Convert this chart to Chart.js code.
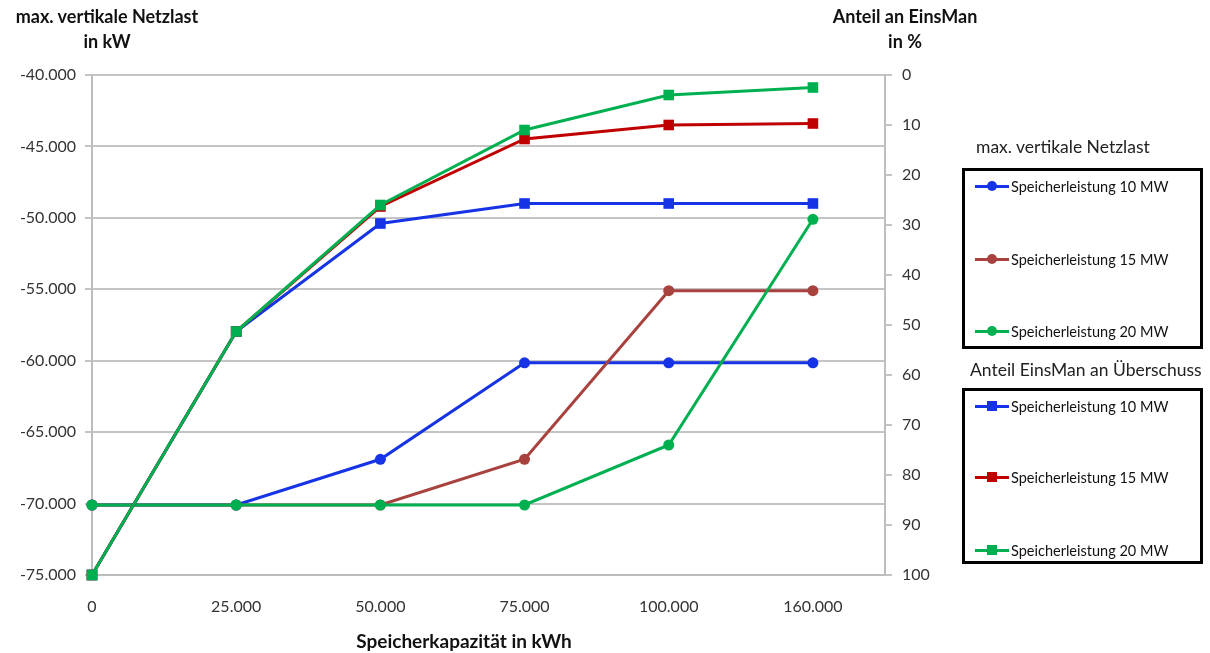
<!DOCTYPE html>
<html>
<head>
<meta charset="utf-8">
<script src="https://cdn.jsdelivr.net/npm/chart.js@4/dist/chart.umd.min.js"></script>
<style>
  body { margin: 0; background: #fff; font-family: Lato, "Open Sans", sans-serif; }
  #wrap { position: relative; width: 1210px; height: 653px; }
  canvas { position: absolute; left: 0; top: 0; }
  .t { position: absolute; font-weight: bold; font-size: 18px; color: #111; text-align: center; line-height: 25px; }
  .lgTitle { position: absolute; font-size: 17.5px; color: #222; }
  .box { position: absolute; border: 3px solid #000; box-sizing: border-box; }
  .row { position: absolute; left: 10px; height: 14px; font-size: 14.5px; color: #111; display: flex; align-items: center; }
  .sample { position: relative; width: 34px; height: 14px; margin-right: 2px; }
  .sample .ln { position: absolute; left: 0; right: 0; top: 6px; height: 3px; }
  .sample .mk { position: absolute; left: 12px; top: 2px; width: 10px; height: 10px; }
</style>
</head>
<body>
<div id="wrap">
  <canvas id="c" width="1210" height="653"></canvas>
  <div class="t" style="left:7px; top:4px; width:200px;">max. vertikale Netzlast<br>in kW</div>
  <div class="t" style="left:810px; top:4px; width:190px;">Anteil an EinsMan<br>in %</div>
  <div class="t" style="left:314px; top:628px; width:300px; font-size:19px;">Speicherkapazität in kWh</div>
  <div class="lgTitle" style="left:976px; top:136px;">max. vertikale Netzlast</div>
  <div class="box" id="lg1" style="left:962px; top:168px; width:241px; height:181px;"></div>
  <div class="lgTitle" style="left:970px; top:359px;">Anteil EinsMan an Überschuss</div>
  <div class="box" id="lg2" style="left:962px; top:388px; width:241px; height:176px;"></div>
</div>
<script>
const capLabels = ['0', '25.000', '50.000', '75.000', '100.000', '160.000'];
const seriesNames = ['Speicherleistung 10 MW', 'Speicherleistung 15 MW', 'Speicherleistung 20 MW'];

// max. vertikale Netzlast in kW (linke Achse)
const netz10 = [-70100, -70100, -66900, -60150, -60150, -60150];
const netz15 = [-70100, -70100, -70100, -66900, -55100, -55100];
const netz20 = [-70100, -70100, -70100, -70100, -65900, -50100];

// Anteil EinsMan an Überschuss in % (rechte Achse)
const eins10 = [100, 51.3, 29.7, 25.7, 25.7, 25.7];
const eins15 = [100, 51.3, 26.3, 12.8, 10.0, 9.7];
const eins20 = [100, 51.3, 26.0, 11.0, 4.0, 2.5];

const leftTicks = [-75000, -70000, -65000, -60000, -55000, -50000, -45000, -40000];

const cBlue = '#1634e6', cBrown = '#a8423f', cRed = '#c00000', cGreen = '#00b050';

function pts(arr) { return arr.map((v, i) => ({ x: i, y: v })); }
function fmt(v) {
  const s = Math.abs(v).toString().replace(/\B(?=(\d{3})+(?!\d))/g, '.');
  return (v < 0 ? '-' : '') + s;
}

function ds(label, arr, color, axis, style) {
  return {
    label: label, data: pts(arr), yAxisID: axis,
    borderColor: color, backgroundColor: color,
    borderWidth: 3, pointStyle: style,
    pointRadius: style === 'rect' ? 7.5 : 5.5,
    pointBorderWidth: 0, tension: 0, clip: false
  };
}

new Chart(document.getElementById('c'), {
  type: 'line',
  data: {
    datasets: [
      ds(seriesNames[2], eins20, cGreen, 'y2', 'rect'),
      ds(seriesNames[1], eins15, cRed, 'y2', 'rect'),
      ds(seriesNames[0], eins10, cBlue, 'y2', 'rect'),
      ds(seriesNames[2], netz20, cGreen, 'y', 'circle'),
      ds(seriesNames[1], netz15, cBrown, 'y', 'circle'),
      ds(seriesNames[0], netz10, cBlue, 'y', 'circle')
    ]
  },
  options: {
    responsive: false,
    animation: false,
    devicePixelRatio: 1,
    layout: { padding: { top: 75 } },
    plugins: { legend: { display: false }, tooltip: { enabled: false } },
    scales: {
      x: {
        type: 'linear', min: 0, max: 5.5,
        grid: { display: false },
        border: { display: true, color: '#bdbdbd', width: 2 },
        ticks: {
          stepSize: 1, autoSkip: false, maxRotation: 0, padding: 14,
          color: '#333', font: { family: 'Lato', size: 16 },
          callback: v => Number.isInteger(v) ? capLabels[v] : ''
        },
        afterFit: s => { s.height = 78; }
      },
      y: {
        position: 'left', min: -75000, max: -40000,
        afterBuildTicks: s => { s.ticks = leftTicks.map(v => ({ value: v })); },
        grid: { color: '#c4c4c4', lineWidth: 2, tickLength: 7 },
        border: { color: '#bdbdbd', width: 2 },
        ticks: { padding: 9, color: '#333', font: { family: 'Lato', size: 16 }, callback: v => fmt(v) },
        afterFit: s => { s.width = 92; }
      },
      y2: {
        position: 'right', min: 0, max: 100, reverse: true,
        grid: { drawOnChartArea: false, color: '#c4c4c4', lineWidth: 2, tickLength: 7 },
        border: { color: '#bdbdbd', width: 2 },
        ticks: { stepSize: 10, padding: 10, color: '#333', font: { family: 'Lato', size: 16 } },
        afterFit: s => { s.width = 325; }
      }
    }
  }
});

// legends
function legend(boxId, colors, square, rows) {
  const box = document.getElementById(boxId);
  seriesNames.forEach((name, i) => {
    const r = document.createElement('div');
    r.className = 'row';
    r.style.top = rows[i] + 'px';
    const smp = document.createElement('div');
    smp.className = 'sample';
    smp.innerHTML = '<div class="ln" style="background:' + colors[i] + '"></div>' +
      '<div class="mk" style="background:' + colors[i] + ';border-radius:' + (square ? '0' : '50%') + '"></div>';
    r.appendChild(smp);
    r.appendChild(document.createTextNode(name));
    box.appendChild(r);
  });
}
legend('lg1', [cBlue, cBrown, cGreen], false, [8, 81, 153]);
legend('lg2', [cBlue, cRed, cGreen], true, [8, 79, 152]);
</script>
</body>
</html>
